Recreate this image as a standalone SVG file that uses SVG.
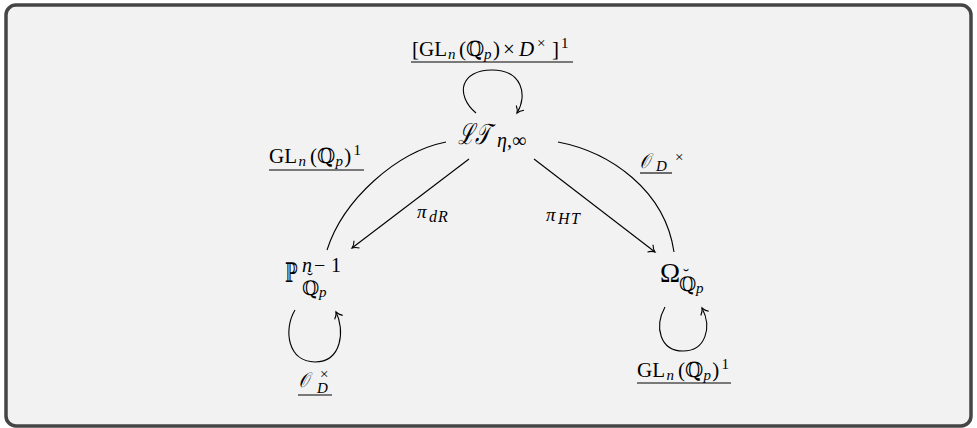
<svg xmlns="http://www.w3.org/2000/svg" width="977" height="428" viewBox="0 0 977 428">
<style>
.t{font-family:"Liberation Serif","DejaVu Serif",serif;fill:#000}
.i{font-style:italic}
.e{fill:none;stroke:#000;stroke-width:1.1}
.u{stroke:#000;stroke-width:1.1}
</style>
<defs>
<marker id="arr" viewBox="-8 -6 10 12" markerWidth="10" markerHeight="12" refX="0" refY="0" orient="auto" markerUnits="userSpaceOnUse">
<path d="M-6,-4.5 C-4,-2 -1.5,-0.5 0,0 C-1.5,0.5 -4,2 -6,4.5" fill="none" stroke="#000" stroke-width="1.1"/>
</marker>
</defs>
<rect x="0" y="0" width="977" height="428" fill="#fff"/>
<rect x="6" y="5" width="965" height="421" rx="10" fill="#f2f2f2" stroke="#454545" stroke-width="3.5"/>

<g id="connectors">
  <g id="e-top-loop">
    <path class="e" d="M476,113 C455,95 460,70 492,70 C522,70 528,95 517,113" marker-end="url(#arr)"/>
    <text class="t" font-size="21" y="56"><tspan x="412">[</tspan><tspan x="419">GL</tspan><tspan class="i" font-size="15" x="448" y="59">n</tspan><tspan x="459" y="56">(ℚ</tspan><tspan class="i" font-size="15" x="484" y="59">p</tspan><tspan x="493" y="56">)</tspan><tspan x="503" y="56">×</tspan><tspan class="i" x="519" y="56">D</tspan><tspan font-size="15" x="537" y="48">×</tspan><tspan x="552" y="56">]</tspan><tspan font-size="15" x="561" y="47.5">1</tspan></text>
    <line class="u" x1="411" y1="62" x2="573" y2="62"/>
  </g>
  <g id="e-left-curve">
    <path class="e" d="M446,142 C396,152 343,200 327,250"/>
    <text class="t" font-size="21" y="163"><tspan x="269">GL</tspan><tspan class="i" font-size="15" x="298.5" y="166">n</tspan><tspan x="310" y="163">(ℚ</tspan><tspan class="i" font-size="15" x="335.5" y="166">p</tspan><tspan x="344.2" y="163">)</tspan><tspan font-size="15" x="353.6" y="155">1</tspan></text>
    <line class="u" x1="269" y1="170" x2="364" y2="170"/>
  </g>
  <g id="e-right-curve">
    <path class="e" d="M558,142 C610,152 665,190 674,252"/>
    <text class="t i" font-size="21" transform="translate(640,168) scale(0.75,1)">𝒪</text>
    <text class="t" font-size="15" y="171"><tspan class="i" x="656">D</tspan><tspan x="675" y="162">×</tspan></text>
    <line class="u" x1="640" y1="173" x2="672" y2="173"/>
  </g>
  <g id="e-pi-dR">
    <line class="e" x1="469" y1="159" x2="352" y2="248" marker-end="url(#arr)"/>
    <text class="t" y="218"><tspan class="i" font-size="19" x="417">π</tspan><tspan class="i" font-size="16" x="429" y="222">d</tspan><tspan class="i" font-size="16" x="438" y="222">R</tspan></text>
  </g>
  <g id="e-pi-HT">
    <line class="e" x1="534" y1="159" x2="655" y2="252" marker-end="url(#arr)"/>
    <text class="t" y="221"><tspan class="i" font-size="19" x="546">π</tspan><tspan class="i" font-size="16" x="558" y="224">H</tspan><tspan class="i" font-size="16" x="571" y="224">T</tspan></text>
  </g>
  <g id="e-left-loop">
    <path class="e" d="M295,310 C283,330 288,362 315,362 C342,362 345,330 336,312" marker-end="url(#arr)"/>
    <text class="t i" font-size="21" transform="translate(299,387) scale(0.75,1)">𝒪</text>
    <text class="t" font-size="15" y="393"><tspan x="320" y="378.5">×</tspan><tspan class="i" x="317" y="393">D</tspan></text>
    <line class="u" x1="298" y1="395" x2="332" y2="395"/>
  </g>
  <g id="e-right-loop">
    <path class="e" d="M665,307 C654,327 660,351 683,351 C706,351 712,327 702,308" marker-end="url(#arr)"/>
    <text class="t" font-size="21" y="376.5"><tspan x="637">GL</tspan><tspan class="i" font-size="15" x="666.5" y="379.5">n</tspan><tspan x="678" y="376.5">(ℚ</tspan><tspan class="i" font-size="15" x="703.5" y="379.5">p</tspan><tspan x="712.2" y="376.5">)</tspan><tspan font-size="15" x="721.6" y="368.5">1</tspan></text>
    <line class="u" x1="637" y1="383" x2="731" y2="383"/>
  </g>
</g>

<g id="n-LT">
  <text class="t i" font-size="29" transform="translate(458,144) scale(0.68,1)">ℒ𝒯</text>
  <text class="t" font-size="20" y="147"><tspan class="i" x="497">η</tspan><tspan>,∞</tspan></text>
</g>
<g id="n-P">
  <text class="t" font-size="27" transform="translate(285,282) scale(0.62,1)">ℙ</text>
  <text class="t" font-size="20" y="272"><tspan class="i" x="302">n</tspan><tspan x="314">−</tspan><tspan x="331">1</tspan></text>
  <text class="t" font-size="18" x="310" y="286" text-anchor="middle">˘</text>
  <text class="t" y="295"><tspan font-size="20" x="302">ℚ</tspan><tspan class="i" font-size="15" x="319" y="297">p</tspan></text>
</g>
<g id="n-Omega">
  <text class="t" font-size="27" x="660" y="282">Ω</text>
  <text class="t" font-size="18" x="686" y="282" text-anchor="middle">˘</text>
  <text class="t" y="291"><tspan font-size="20" x="679">ℚ</tspan><tspan class="i" font-size="15" x="696" y="293">p</tspan></text>
</g>
</svg>
